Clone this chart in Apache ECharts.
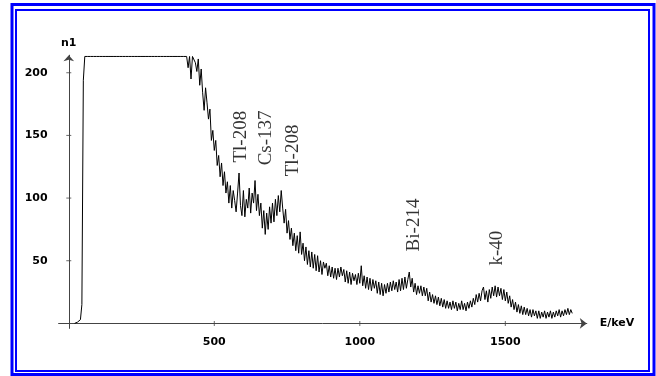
<!DOCTYPE html>
<html><head><meta charset="utf-8">
<script src="https://cdn.jsdelivr.net/npm/echarts@6/dist/echarts.min.js"></script>
<style>html,body{margin:0;padding:0;background:#fff}#c{width:656px;height:376px}</style>
</head><body><div id="c"></div>
<script>
// Spectrum: counts per 5 keV channel starting at 0 keV
const energyStart = 0;
const energyStep = 5;
const counts = [
  null,null,null,null,0,0,1,1,3,15,
  194,213,213,213,213,213,213,213,213,213,
  213,213,213,213,213,213,213,213,213,213,
  213,213,213,213,213,213,213,213,213,213,
  213,213,213,213,213,213,213,213,213,213,
  213,213,213,213,213,213,213,213,213,213,
  213,213,213,213,213,213,213,213,213,213,
  213,213,213,213,213,213,213,213,213,213,
  213,213,204,213,195,213,213,208,201,211,
  190,203,184,170,188,176,163,171,146,154,
  138,146,126,134,117,128,110,121,104,113,
  96,110,92,106,98,89,104,120,94,86,
  106,85,99,92,108,88,104,96,114,90,
  103,86,96,76,90,71,88,75,93,80,
  96,81,99,86,102,89,106,92,80,91,
  72,82,67,76,62,72,58,70,56,73,
  55,64,50,61,47,58,45,57,44,55,
  42,54,41,50,39,49,44,48,38,46,
  37,45,36,44,35,44,37,45,38,43,
  33,42,32,41,31,40,34,39,31,40,
  32,46,30,38,28,37,27,36,26,35,
  28,34,24,33,23,32,22,31,24,32,
  25,33,26,34,27,33,25,35,26,36,
  27,37,28,35,41,29,36,25,32,23,
  30,24,30,22,29,22,28,18,25,17,
  23,16,22,15,21,14,20,13,19,12,
  18,12,17,11,18,12,17,10,16,11,
  18,11,16,10,17,12,18,13,20,15,
  23,17,24,18,26,29,19,26,17,27,
  20,29,22,30,21,29,22,28,19,27,
  18,25,16,22,13,19,11,17,9,15,
  8,14,7,13,7,12,6,11,5,11,
  6,10,4,10,4,9,5,10,4,9,
  5,10,4,9,5,10,6,11,5,10,
  6,11,7,12,7,11,8
];
const xTickValues = [500, 1000, 1500];
const yTickValues = [50, 100, 150, 200];
const xAxisName = 'E/keV';
const yAxisName = 'n1';
const peakNames = ['Tl-208', 'Cs-137', 'Tl-208', 'Bi-214', 'k-40'];
const peakLabelEnergies = [593, 678, 770, 1186, 1472];
const peakLabelCounts = [149, 148, 138, 78.5, 60];

const lineData = counts.map((v, i) => [energyStart + i * energyStep, v]);
const xTickData = xTickValues.map(e => [e, 0]);
const yTickData = yTickValues.map(v => [0, v]);
const peakData = peakNames.map((n, i) => ({ name: n, value: [peakLabelEnergies[i], peakLabelCounts[i]] }));

const axisFont = { fontFamily: 'DejaVu Sans', fontWeight: 'bold', fontSize: 11, color: '#000' };
const axisLineStyle = { color: '#444', width: 1 };

const chart = echarts.init(document.getElementById('c'), null, { renderer: 'canvas' });
chart.setOption({
  animation: false,
  backgroundColor: '#fff',
  grid: { left: 58.6, right: 69.2, top: 55.2, bottom: 47.6, containLabel: false, outerBoundsMode: 'none' },
  xAxis: {
    type: 'value', min: -35, max: 1780,
    name: xAxisName, nameLocation: 'end', nameGap: 13,
    nameTextStyle: Object.assign({}, axisFont, { verticalAlign: 'middle' }),
    axisLine: { onZero: true, lineStyle: axisLineStyle, symbol: ['none', 'arrow'], symbolSize: [8, 7] },
    axisTick: { show: false },
    splitLine: { show: false },
    axisLabel: Object.assign({ customValues: xTickValues, margin: 8, formatter: v => String(v) }, axisFont)
  },
  yAxis: {
    type: 'value', min: -4, max: 214,
    name: yAxisName, nameLocation: 'end', nameGap: 7,
    nameTextStyle: Object.assign({}, axisFont, { align: 'center' }),
    axisLine: { onZero: true, lineStyle: axisLineStyle, symbol: ['none', 'arrow'], symbolSize: [8, 6] },
    axisTick: { show: false },
    splitLine: { show: false },
    axisLabel: Object.assign({ customValues: yTickValues, margin: 11, formatter: v => String(v) }, axisFont)
  },
  graphic: [
    { type: 'rect', silent: true, z: 100, shape: { x: 12, y: 4.5, width: 642, height: 370 }, style: { fill: null, stroke: '#0000ff', lineWidth: 3 } },
    { type: 'rect', silent: true, z: 100, shape: { x: 16, y: 10, width: 633, height: 361 }, style: { fill: null, stroke: '#0000ff', lineWidth: 2 } }
  ],
  series: [
    {
      type: 'line', data: lineData, showSymbol: false, symbol: 'none',
      lineStyle: { color: '#000', width: 1 }, connectNulls: false, clip: false, z: 3
    },
    {
      type: 'scatter', data: xTickData, symbol: 'rect', symbolSize: [1, 5],
      itemStyle: { color: '#444' }, silent: true, z: 2
    },
    {
      type: 'scatter', data: yTickData, symbol: 'rect', symbolSize: [5, 1],
      itemStyle: { color: '#444' }, silent: true, z: 2
    },
    {
      type: 'scatter', data: peakData, symbolSize: 1,
      itemStyle: { color: 'rgba(0,0,0,0)' }, silent: true, z: 4,
      label: {
        show: true, position: 'inside', rotate: 90, formatter: p => p.name,
        fontFamily: 'Liberation Serif', fontSize: 19, color: '#000',
        align: 'center', verticalAlign: 'middle'
      }
    }
  ]
});
</script>
</body></html>
